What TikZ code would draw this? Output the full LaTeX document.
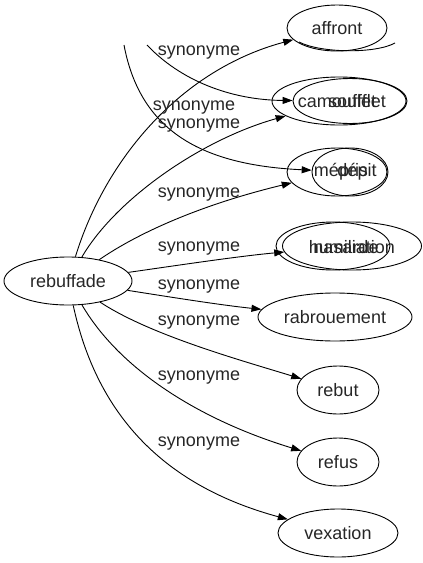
\documentclass[tikz,border=0pt]{standalone}
\usepackage{fontspec}
\setmainfont{Liberation Sans}
\usetikzlibrary{arrows.meta,shapes.geometric}
\begin{document}
\begin{tikzpicture}[x=1pt,y=-1pt,
  every node/.style={font=\fontsize{18}{21}\selectfont, text=black!85},
  el/.style={draw, ellipse, inner sep=0pt, line width=0.9pt, text=black!85},
  txt/.style={inner sep=0pt},
  lbl/.style={inner sep=0pt},
  conn/.style={draw, line width=0.9pt, -{Triangle[length=10pt,width=7pt]}},
  plainline/.style={draw, line width=0.9pt}]
\useasboundingbox (0,0) rectangle (423,563);

% main node
\node[el, minimum width=128pt, minimum height=48pt] (reb) at (68,281) {rebuffade};

% right nodes
\node[el, minimum width=100pt, minimum height=46pt] (aff) at (337,28) {affront};
\node[el, minimum width=134pt, minimum height=48pt] (camA) at (339,101) {};
\node[el, minimum width=114pt, minimum height=45pt] (soufB) at (350,101) {};
\node[txt] (camT) at (337,101) {camouflet};
\node[txt] (soufT) at (357,101) {soufflet};
\node[el, minimum width=100pt, minimum height=48pt] (mepA) at (337,172) {};
\node[el, minimum width=76pt, minimum height=48pt] (depB) at (350,172) {};
\node[txt] (mepT) at (341,172) {mépris};
\node[txt] (depT) at (357,172) {dépit};
\node[el, minimum width=114pt, minimum height=48pt] (nasA) at (333,246) {};
\node[el, minimum width=139pt, minimum height=48pt] (humB) at (352,246) {};
\node[txt] (humT) at (352,247) {humiliation};
\node[txt] (nasT) at (346,247) {nasarde};
\node[el, minimum width=154pt, minimum height=48pt] (rab) at (335,317) {rabrouement};
\node[el, minimum width=82pt, minimum height=48pt] (rebut) at (338,390) {rebut};
\node[el, minimum width=82pt, minimum height=48pt] (refus) at (338,462) {refus};
\node[el, minimum width=120pt, minimum height=48pt] (vex) at (338,533) {vexation};

% partial arc under affront
\draw[plainline] (299,42) .. controls (320,53) and (375,54) .. (395,43);

% free ends of the curves coming from above
\coordinate (topA) at (124,45);
\coordinate (topB) at (147,45);

% connectors
\draw[conn] (reb) .. controls (105,160) and (180,70) .. (aff);
\draw[conn] (reb) .. controls (115,200) and (200,140) .. (camA);
\draw[conn] (reb) .. controls (150,225) and (220,200) .. (mepA);
\draw[conn] (reb) .. controls (180,265) and (240,256) .. (humB);
\draw[conn] (reb) .. controls (170,297) and (220,305) .. (rab);
\draw[conn] (reb) .. controls (150,335) and (240,360) .. (rebut);
\draw[conn] (reb) .. controls (120,370) and (200,420) .. (refus);
\draw[conn] (reb) .. controls (100,430) and (180,490) .. (vex);
\draw[conn] (topA) .. controls (140,130) and (200,165) .. (depB);
\draw[conn] (topB) .. controls (180,80) and (230,100) .. (soufB);

% labels
\node[lbl] (l1) at (199,53) {synonyme};
\node[lbl] (l2) at (194,108) {synonyme};
\node[lbl] (l3) at (199,126) {synonyme};
\node[lbl] (l4) at (199,195) {synonyme};
\node[lbl] (l5) at (199,249) {synonyme};
\node[lbl] (l6) at (199,287) {synonyme};
\node[lbl] (l7) at (199,323) {synonyme};
\node[lbl] (l8) at (199,378) {synonyme};
\node[lbl] (l9) at (199,444) {synonyme};
\end{tikzpicture}
\end{document}
